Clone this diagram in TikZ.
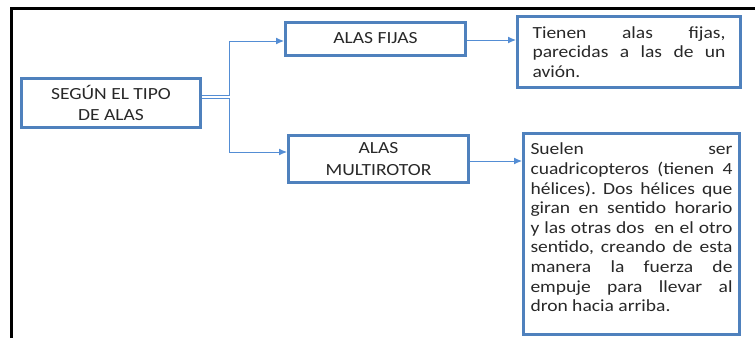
\documentclass[tikz,border=0pt]{standalone}
\usepackage{fontspec}
\setmainfont[FakeStretch=1.15]{Carlito}
\usetikzlibrary{arrows.meta}
\frenchspacing
\definecolor{boxblue}{RGB}{79,129,189}
\definecolor{linkblue}{RGB}{84,141,212}
\definecolor{txt}{RGB}{40,40,40}
\tikzset{
  box/.style={draw=boxblue, line width=3pt, rectangle, inner sep=0pt, text=txt,
    font=\fontsize{17}{21.5}\selectfont, align=center},
  note/.style={box, align=justify, font=\fontsize{17}{19.6}\selectfont},
  conn/.style={draw=linkblue, line width=1pt, -{Latex[length=8pt,width=7pt]}},
}
\begin{document}
\begin{tikzpicture}[x=1pt,y=-1pt]
\useasboundingbox (0,0) rectangle (755,338);
% outer frame (top and left edges)
\draw[line width=3pt] (11.5,338) -- (11.5,8.5) -- (755,8.5);

\node[box, minimum width=179, minimum height=49] (tipo) at (111,103)
  {SEGÚN EL TIPO\\DE ALAS};
\node[box, minimum width=180, minimum height=33] (fijas) at (375.5,38.5)
  {ALAS FIJAS};
\node[box, minimum width=180, minimum height=47] (multi) at (378.5,159)
  {ALAS\\MULTIROTOR};
\node[note, minimum width=223, minimum height=71, text width=193] (tienen) at (629,52)
  {Tienen alas fijas,\linebreak parecidas a las de un\linebreak avión.};
\node[note, minimum width=216, minimum height=201, text width=202] (suelen) at (631.5,233.5)
  {Suelen ser\linebreak cuadricopteros (tienen 4\linebreak hélices). Dos hélices que\linebreak
   giran en sentido horario\linebreak y las otras dos\ \ en el otro\linebreak
   sentido, creando de esta\linebreak manera la fuerza de\linebreak
   empuje para llevar al\linebreak dron hacia arriba.\par\vspace*{12pt}};

\draw[conn] ([yshift=8pt]tipo.east) -- ++(27,0) |- ([yshift=-2.5pt]fijas.west);
\draw[conn] ([yshift=5pt]tipo.east) -- ++(27,0) |- ([yshift=7pt]multi.west);
\draw[conn] ([yshift=-1.5pt]fijas.east) -- ([yshift=-1.5pt]fijas.east -| tienen.west);
\draw[conn] ([yshift=-2pt]multi.east) -- ([yshift=-2pt]multi.east -| suelen.west);
\end{tikzpicture}
\end{document}
